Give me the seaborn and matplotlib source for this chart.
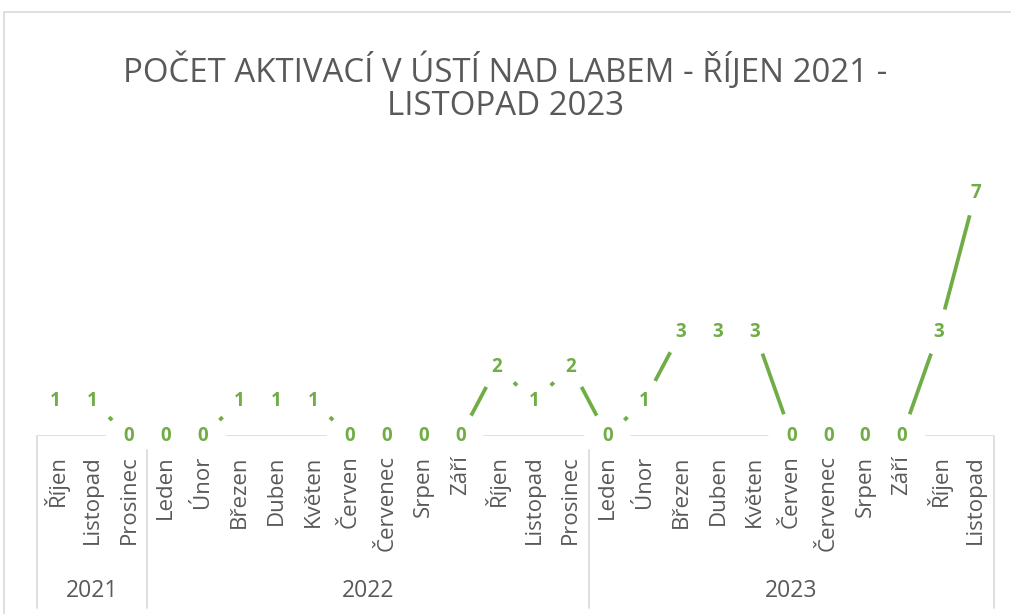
import matplotlib.pyplot as plt
import matplotlib.transforms as mtransforms
from matplotlib.lines import Line2D
from matplotlib.patches import Rectangle
import pandas as pd
import seaborn as sns

# data
months = ["Říjen", "Listopad", "Prosinec",
          "Leden", "Únor", "Březen", "Duben", "Květen", "Červen", "Červenec",
          "Srpen", "Září", "Říjen", "Listopad", "Prosinec",
          "Leden", "Únor", "Březen", "Duben", "Květen", "Červen", "Červenec",
          "Srpen", "Září", "Říjen", "Listopad"]
years = ["2021"] * 3 + ["2022"] * 12 + ["2023"] * 11
counts = [1, 1, 0, 0, 0, 1, 1, 1, 0, 0, 0, 0, 2, 1, 2, 0, 1, 3, 3, 3, 0, 0, 0, 0, 3, 7]

df = pd.DataFrame({"idx": range(len(months)), "month": months, "year": years, "count": counts})

green = "#70AD47"
grey_txt = "#595959"
grey_line = "#D9D9D9"

sns.set_theme(style="white")
plt.rcParams["font.family"] = ["Open Sans", "DejaVu Sans"]

W, H = 1011, 614
fig = plt.figure(figsize=(W / 100, H / 100), dpi=100)
ax = fig.add_axes([37 / W, (H - 436) / H, (994 - 37) / W, (436 - 193) / H])

ax.axhline(0, color=grey_line, lw=1.2, zorder=1)
sns.lineplot(data=df, x="idx", y="count", color=green, linewidth=2.7, ax=ax, zorder=3)

# labels sit on the points, a white patch hides the line underneath (like Excel)
for _, r in df.iterrows():
    ax.text(r["idx"], r["count"], str(r["count"]), ha="center", va="center",
            color=green, fontsize=13.5, fontweight="bold", zorder=5, clip_on=False,
            bbox=dict(boxstyle="circle,pad=0.7", fc="white", ec="none"))

ax.set_xlim(-0.5, len(months) - 0.5)
ax.set_ylim(0, 7)
ax.set_yticks([])
ax.set_xticks(df["idx"])
ax.set_xticklabels(months, rotation=90, fontsize=16, color=grey_txt)
ax.tick_params(axis="x", length=0, pad=14)
ax.xaxis.set_zorder(6)  # month names stay above the white label patches
ax.set_xlabel("")
ax.set_ylabel("")
for s in ax.spines.values():
    s.set_visible(False)

# year groups and separators under the axis
blend = mtransforms.blended_transform_factory(ax.transData, fig.transFigure)
bounds = [-0.5]
for yr in pd.unique(df["year"]):
    sub = df[df["year"] == yr]["idx"]
    lo, hi = sub.min() - 0.5, sub.max() + 0.5
    ax.text((lo + hi) / 2, (H - 591) / H, yr, transform=blend, ha="center", va="center",
            fontsize=16.5, color=grey_txt)
    bounds.append(hi)
for i, b in enumerate(bounds):
    top = 436 if i in (0, len(bounds) - 1) else 450
    fig.add_artist(Line2D([b, b], [(H - top) / H, (H - 608) / H], transform=blend,
                          color=grey_line, lw=1.2))

# chart frame
fig.add_artist(Rectangle((4 / W, -0.1), 1.2, (H - 12) / H + 0.1, transform=fig.transFigure,
                         fill=False, edgecolor=grey_line, lw=1.2))

fig.text(0.5, 1 - 87.5 / H, "POČET AKTIVACÍ V ÚSTÍ NAD LABEM - ŘÍJEN 2021 -\nLISTOPAD 2023",
         ha="center", va="center", fontsize=23.8, color=grey_txt, linespacing=1.0)

fig.savefig("out.png", dpi=100)
